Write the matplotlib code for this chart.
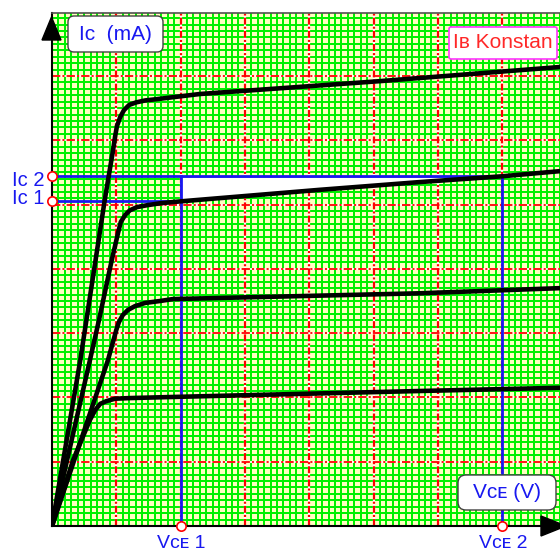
import numpy as np
import matplotlib
matplotlib.use('Agg')
import matplotlib.pyplot as plt
from matplotlib.patches import FancyBboxPatch, Polygon
from matplotlib.transforms import IdentityTransform

plt.rcParams['font.family'] = ['Liberation Sans', 'DejaVu Sans']
plt.rcParams['lines.scale_dashes'] = False

# Output characteristic curves (Vce in grid units, Ic in grid units)
curve1_x = [0, 0.44, 0.82, 0.95, 0.98, 1.01, 1.06, 1.12, 1.20, 1.31, 1.45, 1.63, 1.88, 2.30, 5.10, 7.90]
curve1_y = [0, 2.58, 5.07, 5.85, 6.05, 6.22, 6.36, 6.47, 6.55, 6.59, 6.62, 6.64, 6.67, 6.72, 6.92, 7.14]

curve2_x = [0, 0.59, 0.73, 0.93, 1.03, 1.07, 1.14, 1.21, 1.32, 1.48, 1.68, 2.00, 4.17, 5.72, 7.00, 7.90]
curve2_y = [0, 2.58, 3.20, 4.14, 4.57, 4.73, 4.84, 4.91, 4.96, 4.99, 5.02, 5.05, 5.23, 5.35, 5.44, 5.52]

curve3_x = [0, 0.87, 1.00, 1.04, 1.10, 1.18, 1.29, 1.45, 1.68, 1.88, 5.72, 7.90]
curve3_y = [0, 2.58, 3.05, 3.17, 3.28, 3.36, 3.42, 3.47, 3.50, 3.53, 3.62, 3.70]

curve4_x = [0, 0.33, 0.59, 0.67, 0.75, 0.84, 0.98, 1.21, 1.99, 5.72, 7.90]
curve4_y = [0, 1.03, 1.65, 1.80, 1.90, 1.94, 1.98, 1.99, 2.01, 2.10, 2.15]

vce1, vce2 = 2.0, 7.0
ic1, ic2 = 5.05, 5.44

W, H = 560, 553
blue = '#1818F0'
px = IdentityTransform()

fig = plt.figure(figsize=(5.6, 5.53), dpi=100)
ax = fig.add_axes([52 / W, (H - 526) / H, (W - 52) / W, (526 - 13) / H])
ax.set_xlim(0, 7.9)
ax.set_ylim(0, 7.98)
ax.set_facecolor('#FFFFC0')
ax.set_xticks([])
ax.set_yticks([])

# millimetre style grid
for v in np.round(np.arange(0.1, 8.0, 0.1), 1):
    if abs(v - round(v)) < 1e-6:
        continue
    ax.axvline(v, color='#00F000', lw=1.1, antialiased=False, zorder=1)
    ax.axhline(v, color='#00F000', lw=1.1, antialiased=False, zorder=1)
for m in range(1, 8):
    ax.axvline(m, color='white', lw=1.6, zorder=2)
    ax.axvline(m, color='red', lw=1.6, ls=(0, (5, 1.5, 1.5, 1.5)), zorder=2.1)
    ax.axhline(m, color='white', lw=1.3, zorder=2)
    ax.axhline(m, color='red', lw=1.3, ls=(0, (6, 1.5, 1.5, 1.5)), zorder=2.1)

for s in ['left', 'bottom']:
    ax.spines[s].set_color('black')
    ax.spines[s].set_linewidth(1.5)
ax.spines['top'].set_color('#505050')
ax.spines['top'].set_linewidth(1.2)
ax.spines['right'].set_visible(False)

# white area between Ic2 and the curve
fx = [x for x in curve2_x if vce1 <= x <= vce2]
fy = [y for x, y in zip(curve2_x, curve2_y) if vce1 <= x <= vce2]
ax.fill_between(fx, fy, ic2, facecolor='white', edgecolor=blue, lw=1, zorder=3.5)

ax.plot([0, vce2], [ic2, ic2], color=blue, lw=2, zorder=4)
ax.plot([0, vce1], [ic1, ic1], color=blue, lw=2, zorder=4)
ax.plot([vce1, vce1], [0, ic2], color=blue, lw=2, zorder=4)
ax.plot([vce2, vce2], [0, ic2], color=blue, lw=2, zorder=4)

for cx, cy in [(curve1_x, curve1_y), (curve2_x, curve2_y), (curve3_x, curve3_y), (curve4_x, curve4_y)]:
    ax.plot(cx, cy, color='black', lw=3.3, solid_joinstyle='round', solid_capstyle='round', zorder=5)

ax.plot([0, 0], [ic2, ic1], 'o', ms=6.7, mfc='white', mec='red', mew=1.2, clip_on=False, zorder=6)
ax.plot([vce1, vce2], [0, 0], 'o', ms=6.7, mfc='white', mec='red', mew=1.2, clip_on=False, zorder=6)

# axis arrows
fig.add_artist(Polygon([(42, H - 40), (61, H - 40), (51.5, H - 17)], closed=True, color='black', transform=px))
fig.add_artist(Polygon([(541, H - 516), (541, H - 536), (566, H - 526)], closed=True, color='black', transform=px))

# label boxes
fig.add_artist(FancyBboxPatch((68, H - 52), 95, 36, boxstyle='round,pad=0,rounding_size=6',
                              fc='white', ec='#404040', lw=1, transform=px, zorder=7))
fig.text(115.5, H - 34, 'Ic  (mA)', ha='center', va='center', color=blue, fontsize=15, transform=px, zorder=8)

fig.add_artist(FancyBboxPatch((449, H - 59), 108, 32, boxstyle='round,pad=0,rounding_size=2',
                              fc='white', ec='#FF33FF', lw=1.2, transform=px, zorder=7))
fig.text(503, H - 43, 'Iʙ Konstan', ha='center', va='center', color='#FF2828', fontsize=15, transform=px, zorder=8)

fig.add_artist(FancyBboxPatch((458, H - 510), 98, 35, boxstyle='round,pad=0,rounding_size=8',
                              fc='white', ec='#404040', lw=1, transform=px, zorder=7))
fig.text(507, H - 492, 'Vᴄᴇ (V)', ha='center', va='center', color=blue, fontsize=15, transform=px, zorder=8)

fig.text(45, H - 186, 'Ic 2', ha='right', va='baseline', color=blue, fontsize=14.5, transform=px)
fig.text(45, H - 204, 'Ic 1', ha='right', va='baseline', color=blue, fontsize=14.5, transform=px)
fig.text(181, H - 548, 'Vᴄᴇ 1', ha='center', va='baseline', color=blue, fontsize=14, transform=px)
fig.text(503, H - 548, 'Vᴄᴇ 2', ha='center', va='baseline', color=blue, fontsize=14, transform=px)

fig.savefig('out.png', dpi=100)
